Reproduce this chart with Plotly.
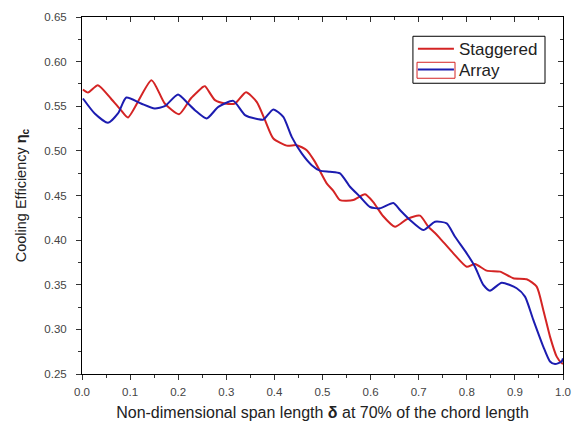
import plotly.graph_objects as go

# Staggered layout: cooling efficiency along the span
stag_x = [0.002, 0.0125, 0.033, 0.060, 0.081, 0.0956, 0.1445, 0.172, 0.2017, 0.2266,
          0.2516, 0.2557, 0.2765, 0.2973, 0.318, 0.341, 0.3632, 0.3805, 0.3978, 0.4256,
          0.4464, 0.4672, 0.4844, 0.5087, 0.5225, 0.5364, 0.564, 0.5884, 0.6056, 0.6258,
          0.6507, 0.6757, 0.7027, 0.72, 0.7339, 0.7443, 0.772, 0.7998, 0.817, 0.8414,
          0.869, 0.8967, 0.9245, 0.9453, 0.959, 0.973, 0.9869, 0.9973, 1.0]
stag_y = [0.5688, 0.5654, 0.5736, 0.5587, 0.5456, 0.5374, 0.5792, 0.5531, 0.5411, 0.5590,
          0.5717, 0.5725, 0.5568, 0.5531, 0.5531, 0.5657, 0.5549, 0.5344, 0.5139, 0.5059,
          0.5064, 0.5008, 0.4877, 0.4636, 0.4553, 0.4449, 0.4449, 0.4513, 0.4426, 0.4270,
          0.4150, 0.4236, 0.4275, 0.4150, 0.4080, 0.4020, 0.3852, 0.3702, 0.3733, 0.3658,
          0.3647, 0.3573, 0.3562, 0.3479, 0.3218, 0.2919, 0.2695, 0.2622, 0.2614]

# Array layout: cooling efficiency along the span
arr_x = [0.002, 0.0264, 0.054, 0.0748, 0.0921, 0.1227, 0.1511, 0.172, 0.1996, 0.2204,
         0.2349, 0.2593, 0.2834, 0.3146, 0.3389, 0.3665, 0.377, 0.3977, 0.4185, 0.436,
         0.4568, 0.4775, 0.4948, 0.5156, 0.5364, 0.5572, 0.578, 0.5988, 0.6195, 0.6472,
         0.6611, 0.6819, 0.7096, 0.7339, 0.7582, 0.7755, 0.7998, 0.817, 0.8343, 0.8482,
         0.8726, 0.9037, 0.921, 0.9383, 0.959, 0.973, 0.9834, 0.9973, 1.0]
arr_y = [0.5587, 0.5419, 0.5314, 0.5419, 0.5598, 0.5531, 0.5475, 0.5501, 0.5632, 0.5531,
         0.5456, 0.5363, 0.5493, 0.5560, 0.5400, 0.5355, 0.5350, 0.5464, 0.5381, 0.5157,
         0.4971, 0.4840, 0.4779, 0.4766, 0.4748, 0.4598, 0.4486, 0.4371, 0.4356, 0.4415,
         0.4337, 0.4225, 0.4113, 0.4206, 0.4188, 0.4038, 0.3852, 0.3702, 0.3498, 0.3434,
         0.3523, 0.3461, 0.3367, 0.3106, 0.2807, 0.2640, 0.2611, 0.2640, 0.2675]

x_ticks = [0.0, 0.1, 0.2, 0.3, 0.4, 0.5, 0.6, 0.7, 0.8, 0.9, 1.0]
y_ticks = [0.25, 0.30, 0.35, 0.40, 0.45, 0.50, 0.55, 0.60, 0.65]

RED = "#d42424"
BLUE = "#1c1cb0"
FONT = "Liberation Sans, Arial, sans-serif"

fig = go.Figure()
fig.add_trace(go.Scatter(x=stag_x, y=stag_y, mode="lines", name="Staggered", legend="legend",
                         line=dict(color=RED, width=2, shape="spline", smoothing=0.6)))
fig.add_trace(go.Scatter(x=arr_x, y=arr_y, mode="lines", name="Array", legend="legend2",
                         line=dict(color=BLUE, width=2, shape="spline", smoothing=0.6)))

axis_common = dict(showgrid=False, zeroline=False, showline=True, linecolor="black",
                   linewidth=1, ticklen=5, tickwidth=1, tickcolor="#333", automargin=False,
                   tickfont=dict(family=FONT, size=11.5, color="#444"))

legend_common = dict(xanchor="left", yanchor="top", bgcolor="rgba(0,0,0,0)",
                     borderwidth=0, itemwidth=36,
                     font=dict(family=FONT, size=17, color="#222"))

fig.update_layout(
    width=572, height=428,
    margin=dict(l=82, r=9, t=17, b=54),
    paper_bgcolor="white", plot_bgcolor="white",
    font=dict(family=FONT, color="#222"),
    xaxis=dict(range=[0, 1], tickvals=x_ticks, ticktext=[f"{v:.1f}" for v in x_ticks],
               ticks="outside", ticklabelstandoff=2,
               minor=dict(dtick=0.05, ticks="outside", ticklen=3, tickcolor="#333"),
               title=dict(text="Non-dimensional span length <b>δ</b> at 70% of the chord length",
                          font=dict(family=FONT, size=16, color="#222"), standoff=10),
               **axis_common),
    yaxis=dict(range=[0.25, 0.65], tickvals=y_ticks, ticktext=[f"{v:.2f}" for v in y_ticks],
               ticks="outside", ticklabelstandoff=7,
               minor=dict(dtick=0.025, ticks="outside", ticklen=3, tickcolor="#333"),
               title=dict(text="Cooling Efficiency <b>η<sub>c</sub></b>",
                          font=dict(family=FONT, size=14.5, color="#222"), standoff=14),
               **axis_common),
    xaxis2=dict(overlaying="x", side="top", range=[0, 1], tickvals=x_ticks,
                showticklabels=False, ticks="inside",
                minor=dict(dtick=0.05, ticks="inside", ticklen=3, tickcolor="#333"),
                **axis_common),
    yaxis2=dict(overlaying="y", side="right", range=[0.25, 0.65], tickvals=y_ticks,
                showticklabels=False, ticks="inside",
                minor=dict(dtick=0.025, ticks="inside", ticklen=3, tickcolor="#333"),
                **axis_common),
    legend=dict(x=0.688, y=0.960, **legend_common),
    legend2=dict(x=0.688, y=0.902, **legend_common),
    showlegend=True,
)

# legend frame
fig.add_shape(type="rect", xref="paper", yref="paper", layer="above",
              x0=0.688, x1=0.9626, y0=0.8144, y1=0.946,
              line=dict(color="black", width=1), fillcolor="white")
# red frame around the Array legend sample
fig.add_shape(type="rect", xref="paper", yref="paper", layer="above",
              x0=0.6965, x1=0.7755, y0=0.8284, y1=0.8732,
              line=dict(color=RED, width=1), fillcolor="rgba(0,0,0,0)")

# invisible trace so the mirrored axes are drawn
fig.add_trace(go.Scatter(x=[None], y=[None], xaxis="x2", yaxis="y2", showlegend=False))

fig.write_html("out.html")
